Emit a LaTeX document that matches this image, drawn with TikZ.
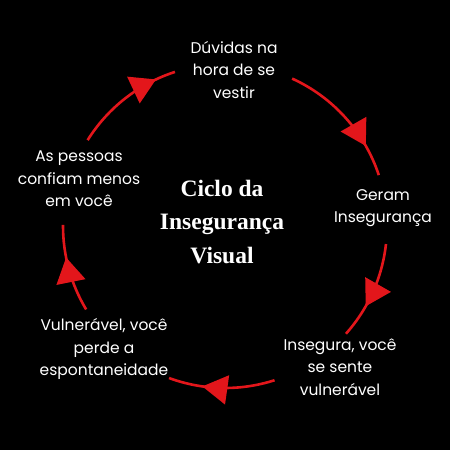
\documentclass[tikz,border=0pt]{standalone}
\usepackage{fontspec}
\setmainfont{Poppins}
\newfontfamily\titlefont{Liberation Serif}
\usetikzlibrary{calc,arrows.meta,decorations.markings}
\definecolor{cycred}{HTML}{E3161B}
\tikzset{
  lbl/.style={text=white,align=center,font=\fontsize{15.5}{22.5}\selectfont,inner sep=0pt},
  ttl/.style={text=white,align=center,font=\titlefont\bfseries\fontsize{23.5}{33.5}\selectfont,inner sep=0pt},
  cyc/.style={draw=cycred,line width=2.6pt,postaction={decorate},
    decoration={markings,mark=at position #1 with {\arrow[cycred]{Triangle[length=25pt,width=29pt]}}}}
}
\begin{document}
\begin{tikzpicture}[x=1pt,y=1pt]
\fill[black] (0,0) rectangle (450,450);
\useasboundingbox (0,0) rectangle (450,450);
\coordinate (c) at (225,224);
\node[lbl] (d) at (234,380) {Dúvidas na\\hora de se\\vestir};
\node[lbl] (g) at (383,242) {Geram\\Insegurança};
\node[lbl] (i) at (340,83) {Insegura, você\\se sente\\vulnerável};
\node[lbl] (v) at (104,101) {Vulnerável, você\\perde a\\espontaneidade};
\node[lbl] (p) at (79,271) {As pessoas\\confiam menos\\em você};
\node[ttl] (t) at (222,228) {Ciclo da\\Insegurança\\Visual};
\draw[cyc=0.82] ($(c)+(148:162pt)$) arc[start angle=148,end angle=108,radius=162pt];
\draw[cyc=0.76] ($(c)+(65.5:162pt)$) arc[start angle=65.5,end angle=18.3,radius=162pt];
\draw[cyc=0.66] ($(c)+(-6.4:162pt)$) arc[start angle=-6.4,end angle=-41.7,radius=162pt];
\draw[cyc=0.68] ($(c)+(-72.2:162pt)$) arc[start angle=-72.2,end angle=-110.2,radius=162pt];
\draw[cyc=0.63] ($(c)+(211:162pt)$) arc[start angle=211,end angle=179.6,radius=162pt];
\end{tikzpicture}
\end{document}
